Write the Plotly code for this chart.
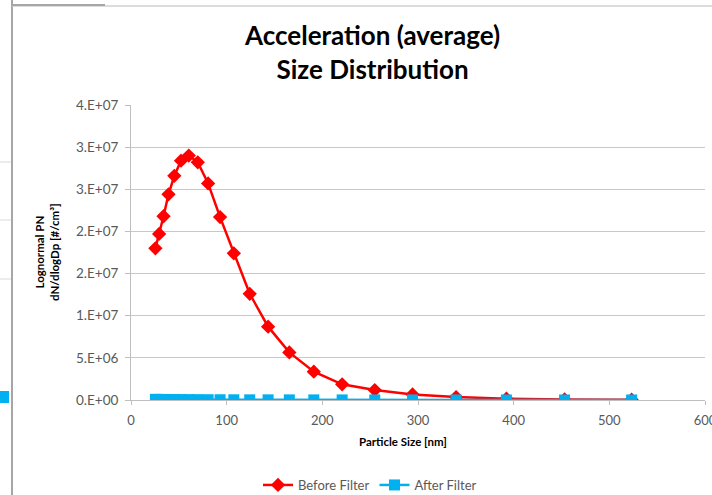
import plotly.graph_objects as go

# Particle size bins [nm]
sizes = [25.5, 29.4, 34.0, 39.2, 45.3, 52.3, 60.4, 69.8, 80.6, 93.1, 107.5,
         124.1, 143.3, 165.5, 191.1, 220.7, 254.8, 294.3, 339.8, 392.4, 453.2, 523.3]

before_filter = [1.80e7, 1.97e7, 2.18e7, 2.44e7, 2.66e7, 2.84e7, 2.90e7, 2.82e7,
                 2.57e7, 2.17e7, 1.74e7, 1.26e7, 8.7e6, 5.65e6, 3.36e6, 1.86e6,
                 1.18e6, 6.5e5, 3.5e5, 1.6e5, 7e4, 3e4]

after_filter = [8e4, 7e4, 6.5e4, 6e4, 5.5e4, 5e4, 4.5e4, 4e4, 3.5e4, 3e4, 2.5e4,
                2e4, 1.8e4, 1.5e4, 1.2e4, 1e4, 8e3, 6e3, 5e3, 4e3, 3e3, 2e3]

y_tickvals = [0, 5e6, 1e7, 1.5e7, 2e7, 2.5e7, 3e7, 3.5e7]
y_ticktext = ["0.E+00", "5.E+06", "1.E+07", "2.E+07", "2.E+07", "3.E+07", "3.E+07", "4.E+07"]
x_tickvals = [0, 100, 200, 300, 400, 500, 600]

FONT = "Lato, Open Sans, sans-serif"

fig = go.Figure()
fig.add_trace(go.Scatter(
    x=sizes, y=before_filter, mode="lines+markers", name="Before Filter",
    line=dict(color="#ff0000", width=2.5),
    marker=dict(symbol="diamond", size=11, color="#ff0000"),
))
fig.add_trace(go.Scatter(
    x=sizes, y=after_filter, mode="lines+markers", name="After Filter",
    line=dict(color="#00b0f0", width=2.5),
    marker=dict(symbol="square", size=11, color="#00b0f0"),
))

L, R, T, B = 131, 7, 105, 95
W = 712 - L - R
H = 495 - T - B

def px_x(p):
    return (p - L) / W

def px_y(p):
    return (400 - p) / H

fig.update_layout(
    width=712, height=495,
    margin=dict(l=L, r=R, t=T, b=B, autoexpand=False),
    paper_bgcolor="white", plot_bgcolor="white",
    font=dict(family=FONT, size=12, color="#595959"),
    showlegend=True,
    legend=dict(orientation="h", x=px_x(258), y=px_y(470), xanchor="left", yanchor="top",
                font=dict(family=FONT, size=13, color="#595959"),
                itemwidth=30, bgcolor="rgba(0,0,0,0)", tracegroupgap=0),
    xaxis=dict(range=[0, 600], tickvals=x_tickvals, showgrid=False,
               showline=True, linecolor="#bfbfbf", linewidth=1,
               ticks="outside", ticklen=4, tickcolor="#bfbfbf", ticklabelstandoff=4,
               ticklabeloverflow="allow",
               zeroline=False, tickfont=dict(size=13, color="#595959")),
    yaxis=dict(range=[0, 3.5e7], tickvals=y_tickvals, ticktext=y_ticktext,
               showgrid=True, gridcolor="#c8c8c8", gridwidth=1,
               showline=True, linecolor="#bfbfbf", linewidth=1,
               ticks="outside", ticklen=5, tickcolor="#bfbfbf", ticklabelstandoff=4,
               zeroline=False, tickfont=dict(size=13.5, color="#595959")),
)

# Title
fig.add_annotation(text="<b>Acceleration (average)<br>Size Distribution</b>",
                   xref="paper", yref="paper", x=px_x(372), y=px_y(52),
                   xanchor="center", yanchor="middle", showarrow=False,
                   font=dict(family=FONT, size=26, color="#000000"))
# Axis titles
fig.add_annotation(text="<b>Particle Size [nm]</b>",
                   xref="paper", yref="paper", x=px_x(403), y=px_y(441),
                   xanchor="center", yanchor="middle", showarrow=False,
                   font=dict(family=FONT, size=11.5, color="#000000"))
fig.add_annotation(text="<b>Lognormal PN<br>dN/dlogDp [#/cm³]</b>",
                   xref="paper", yref="paper", x=px_x(47), y=px_y(252),
                   xanchor="center", yanchor="middle", showarrow=False, textangle=-90,
                   font=dict(family=FONT, size=11.5, color="#000000"))

# Neighbouring chart frame fragments at the left edge of the screenshot
fig.add_shape(type="line", xref="paper", yref="paper", x0=px_x(12), x1=px_x(12),
              y0=px_y(0), y1=px_y(495), line=dict(color="#a6a6a6", width=2))
fig.add_shape(type="line", xref="paper", yref="paper", x0=px_x(12), x1=px_x(712),
              y0=px_y(6), y1=px_y(6), line=dict(color="#d0d0d0", width=1.5))
fig.add_shape(type="line", xref="paper", yref="paper", x0=px_x(12), x1=px_x(105),
              y0=px_y(5), y1=px_y(5), line=dict(color="#a6a6a6", width=2))
for gy in [162, 220, 279]:
    fig.add_shape(type="line", xref="paper", yref="paper", x0=px_x(0), x1=px_x(11),
                  y0=px_y(gy), y1=px_y(gy), line=dict(color="#d9d9d9", width=1))
fig.add_shape(type="rect", xref="paper", yref="paper", x0=px_x(0), x1=px_x(9),
              y0=px_y(403), y1=px_y(391), fillcolor="#00b0f0", line=dict(width=0))

fig.write_html("out.html", config={"displayModeBar": False},
               post_script="document.body.style.margin='0';document.body.style.overflow='hidden';")
